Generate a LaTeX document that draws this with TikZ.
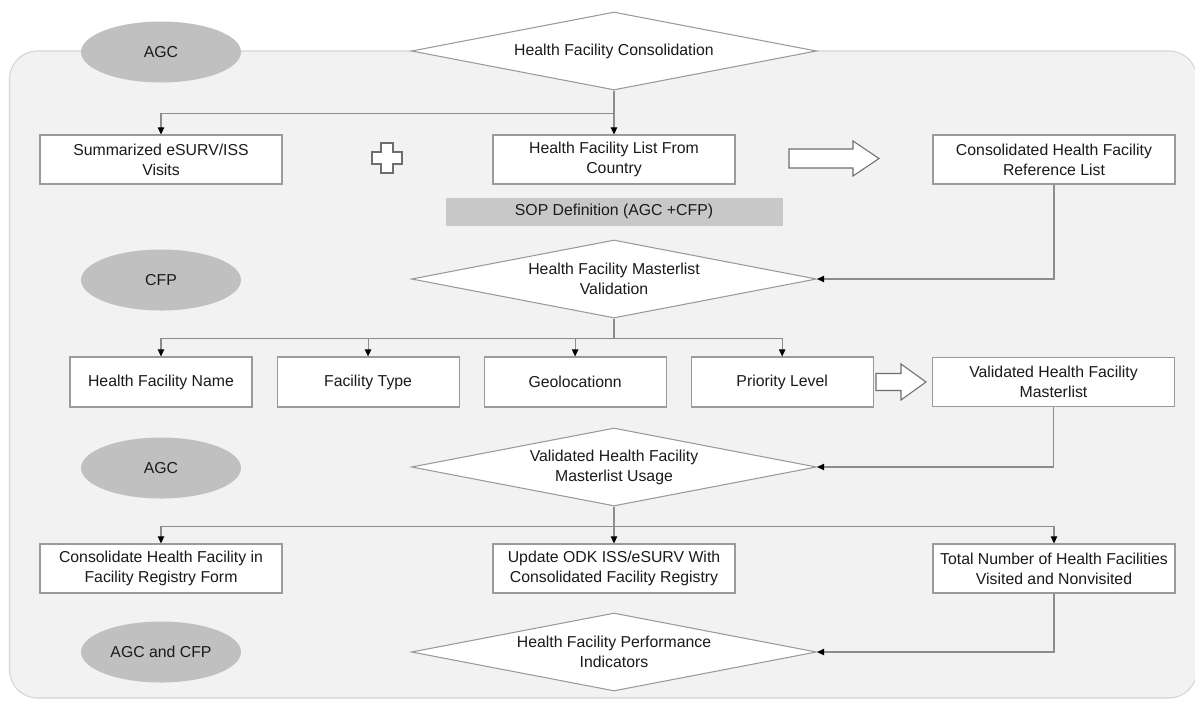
\documentclass[tikz,border=0pt]{standalone}
\usepackage{fontspec}
\setmainfont{Liberation Sans}
\usetikzlibrary{positioning,shapes.geometric,arrows.meta}

\definecolor{panelgray}{HTML}{F2F2F2}
\definecolor{panelline}{HTML}{D4D4D4}
\definecolor{actorgray}{HTML}{C0C0C0}
\definecolor{sopgray}{HTML}{C8C8C8}
\definecolor{boxline}{HTML}{9A9A9A}
\definecolor{linegray}{HTML}{8C8C8C}
\definecolor{plusline}{HTML}{6E6E6E}
\definecolor{textdark}{HTML}{1A1A1A}

\tikzset{%
  % Specifications for style of nodes:
         box/.style = {rectangle, draw = boxline, line width=0.6pt, fill=white, minimum width=4.84cm, minimum height=0.98cm, inner sep=1pt, align=center},
    smallbox/.style = {box, minimum width=3.64cm, minimum height=1cm},
    decision/.style = {diamond, draw = boxline, line width=0.6pt, fill=white, minimum width=8.1cm, minimum height=1.56cm, aspect=5.2, inner sep=0pt, align=center},
       actor/.style = {ellipse, fill=actorgray, minimum width=3.2cm, minimum height=1.22cm},
      sopbar/.style = {rectangle, fill=sopgray, minimum width=6.74cm, minimum height=0.56cm, inner sep=0pt},
        link/.style = {draw=linegray, line width=0.6pt, -{Triangle[length=4pt, width=3.6pt, color=black]}},
    blockarr/.style = {draw=plusline, line width=0.6pt, fill=white, line join=miter},
}

\begin{document}
\begin{tikzpicture}[every node/.style={font=\fontsize{9}{11.4}\selectfont, text=textdark}]
    \useasboundingbox (0,0) rectangle (23.9,-14.02);

    % Background panel
    \draw[draw=panelline, line width=0.6pt, fill=panelgray, rounded corners=0.56cm] (0.19,-1.02) rectangle (23.94,-13.96);

    % Draw nodes
    \node (agcA)       [actor]    at (3.22,-1.04)   {AGC};
    \node (cfp)        [actor]    at (3.22,-5.6)    {CFP};
    \node (agcB)       [actor]    at (3.22,-9.36)   {AGC};
    \node (agccfp)     [actor]    at (3.22,-13.04)  {AGC and CFP};

    \node (consol)     [decision] at (12.28,-1.02)  {Health Facility Consolidation};
    \node (visits)     [box]      at (3.22,-3.19)   {Summarized eSURV/ISS\\Visits};
    \node (country)    [box]      at (12.28,-3.19)  {Health Facility List From\\Country};
    \node (reflist)    [box]      at (21.08,-3.19)  {Consolidated Health Facility\\Reference List};
    \node (sop)        [sopbar, below=0.26cm of country] {SOP Definition (AGC +CFP)};

    \node (validation) [decision] at (12.28,-5.58)  {Health Facility Masterlist\\Validation};
    \node (hfname)     [smallbox] at (3.22,-7.64)   {Health Facility Name};
    \node (ftype)      [smallbox, right=0.48cm of hfname] {Facility Type};
    \node (geo)        [smallbox, right=0.48cm of ftype]  {Geolocationn};
    \node (priority)   [smallbox, right=0.48cm of geo]    {Priority Level};
    \node (masterlist) [box]      at (21.07,-7.64)  {Validated Health Facility\\Masterlist};

    \node (usage)      [decision] at (12.28,-9.34)  {Validated Health Facility\\Masterlist Usage};
    \node (registry)   [box]      at (3.22,-11.37)  {Consolidate Health Facility in\\Facility Registry Form};
    \node (odk)        [box]      at (12.28,-11.37) {Update ODK ISS/eSURV With\\Consolidated Facility Registry};
    \node (total)      [box]      at (21.08,-11.37) {Total Number of Health Facilities\\Visited and Nonvisited};

    \node (perf)       [decision] at (12.28,-13.04) {Health Facility Performance\\Indicators};

    % Plus sign and block arrows
    \coordinate (plus) at (7.74,-3.16);
    \draw[blockarr] (plus) ++(-0.12,0.3) -- ++(0.24,0) -- ++(0,-0.18) -- ++(0.18,0) -- ++(0,-0.24) -- ++(-0.18,0) -- ++(0,-0.18) -- ++(-0.24,0) -- ++(0,0.18) -- ++(-0.18,0) -- ++(0,0.24) -- ++(0.18,0) -- cycle;

    \coordinate (arrA) at (15.78,-3.17);
    \draw[blockarr] (arrA) ++(0,0.19) -- ++(1.28,0) -- ++(0,0.16) -- ++(0.52,-0.35) -- ++(-0.52,-0.35) -- ++(0,0.16) -- ++(-1.28,0) -- cycle;

    \coordinate (arrB) at (17.52,-7.64);
    \draw[blockarr] (arrB) ++(0,0.17) -- ++(0.5,0) -- ++(0,0.19) -- ++(0.5,-0.36) -- ++(-0.5,-0.36) -- ++(0,0.19) -- ++(-0.5,0) -- cycle;

    % Draw arrows
    \draw[link] (consol.south) -- (country.north);
    \draw[link] (consol.south) -- ++(0,-0.46) -| (visits.north);
    \draw[link] (reflist.south) |- (validation.east);

    \draw[link] (validation.south) -- ++(0,-0.4) -| (hfname.north);
    \draw[link] (validation.south) -- ++(0,-0.4) -| (ftype.north);
    \draw[link] (validation.south) -- ++(0,-0.4) -| (geo.north);
    \draw[link] (validation.south) -- ++(0,-0.4) -| (priority.north);
    \draw[link] (masterlist.south) |- (usage.east);

    \draw[link] (usage.south) -- (odk.north);
    \draw[link] (usage.south) -- ++(0,-0.4) -| (registry.north);
    \draw[link] (usage.south) -- ++(0,-0.4) -| (total.north);
    \draw[link] (total.south) |- (perf.east);

\end{tikzpicture}
\end{document}
